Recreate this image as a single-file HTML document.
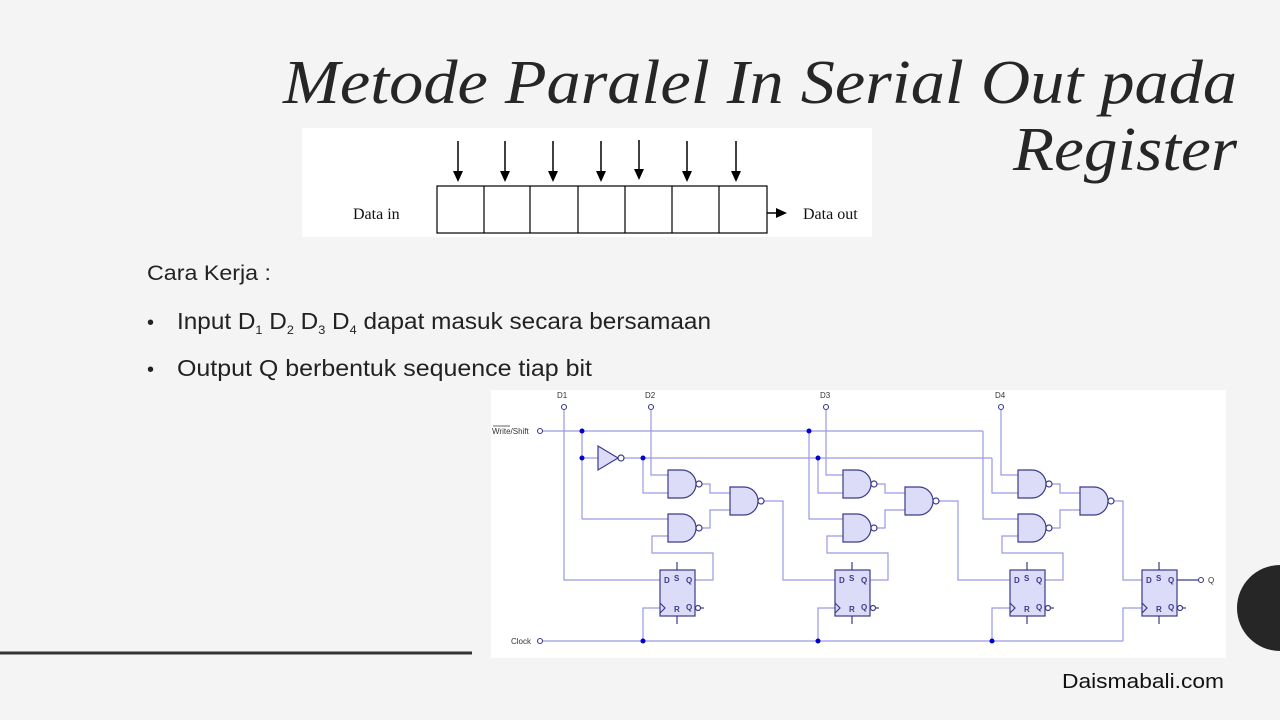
<!DOCTYPE html>
<html><head><meta charset="utf-8"><style>
html,body{margin:0;padding:0;background:#f4f4f4;}
svg{display:block}
</style></head><body>
<svg width="1280" height="720" viewBox="0 0 1280 720" xmlns="http://www.w3.org/2000/svg">
<rect width="1280" height="720" fill="#f4f4f4"/>
<!-- title -->
<text x="1237" y="103" text-anchor="end" font-family="Liberation Serif, serif" font-style="italic" font-size="62" fill="#262626" textLength="954" lengthAdjust="spacingAndGlyphs">Metode Paralel In Serial Out pada</text>
<text x="1237" y="170" text-anchor="end" font-family="Liberation Serif, serif" font-style="italic" font-size="62" fill="#262626" textLength="224" lengthAdjust="spacingAndGlyphs">Register</text>

<!-- top diagram -->
<rect x="302" y="128" width="570" height="109" fill="#ffffff"/>
<g stroke="#000" stroke-width="1.2" fill="none">
<rect x="437" y="186" width="330" height="47"/>
<line x1="484" y1="186" x2="484" y2="233"/><line x1="530" y1="186" x2="530" y2="233"/>
<line x1="578" y1="186" x2="578" y2="233"/><line x1="625" y1="186" x2="625" y2="233"/>
<line x1="672" y1="186" x2="672" y2="233"/><line x1="719" y1="186" x2="719" y2="233"/>
</g>
<g stroke="#000" stroke-width="1.5">
<line x1="458" y1="141" x2="458" y2="172"/><line x1="505" y1="141" x2="505" y2="172"/>
<line x1="553" y1="141" x2="553" y2="172"/><line x1="601" y1="141" x2="601" y2="172"/>
<line x1="639" y1="140" x2="639" y2="170"/><line x1="687" y1="141" x2="687" y2="172"/>
<line x1="736" y1="141" x2="736" y2="172"/>
<line x1="767" y1="213" x2="778" y2="213"/>
</g>
<g fill="#000">
<polygon points="453,171 463,171 458,182"/><polygon points="500,171 510,171 505,182"/>
<polygon points="548,171 558,171 553,182"/><polygon points="596,171 606,171 601,182"/>
<polygon points="634,169 644,169 639,180"/><polygon points="682,171 692,171 687,182"/>
<polygon points="731,171 741,171 736,182"/>
<polygon points="776,208 787,213 776,218"/>
</g>
<text x="353" y="219" font-family="Liberation Serif, serif" font-size="16" fill="#111">Data in</text>
<text x="803" y="219" font-family="Liberation Serif, serif" font-size="16" fill="#111">Data out</text>

<!-- text -->
<g font-family="Liberation Sans, sans-serif" fill="#222">
<text x="147" y="280" font-size="21" textLength="124" lengthAdjust="spacingAndGlyphs">Cara Kerja :</text>
<text x="147" y="329" font-size="20">•</text>
<text x="177" y="329" font-size="23" textLength="534" lengthAdjust="spacingAndGlyphs">Input D<tspan font-size="12" dy="5">1</tspan><tspan dy="-5"> D</tspan><tspan font-size="12" dy="5">2</tspan><tspan dy="-5"> D</tspan><tspan font-size="12" dy="5">3</tspan><tspan dy="-5"> D</tspan><tspan font-size="12" dy="5">4</tspan><tspan dy="-5"> dapat masuk secara bersamaan</tspan></text>
<text x="147" y="376" font-size="20">•</text>
<text x="177" y="376" font-size="23" textLength="415" lengthAdjust="spacingAndGlyphs">Output Q berbentuk sequence tiap bit</text>
<text x="1062" y="688" font-size="20" fill="#111" textLength="162" lengthAdjust="spacingAndGlyphs">Daismabali.com</text>
</g>

<line x1="0" y1="653" x2="472" y2="653" stroke="#333" stroke-width="3"/>

<!-- circuit panel -->
<rect x="491" y="390" width="735" height="268" fill="#ffffff"/>
<defs>
<g id="and">
<path d="M0,0 h14 a14,14 0 0 1 0,28 h-14 z" fill="#dcdcf8" stroke="#3b3b8a" stroke-width="1.2"/>
<circle cx="31" cy="14" r="3" fill="#fff" stroke="#3b3b8a" stroke-width="1.2"/>
</g>
<g id="ff">
<g stroke="#3b3b8a" stroke-width="1.2">
<line x1="17" y1="-8" x2="17" y2="0"/><line x1="17" y1="46" x2="17" y2="54"/>
<line x1="41" y1="38" x2="44" y2="38"/>
</g>
<rect x="0" y="0" width="35" height="46" fill="#dcdcf8" stroke="#3b3b8a" stroke-width="1.2"/>
<polyline points="0,33 5,38 0,43" fill="none" stroke="#3b3b8a" stroke-width="1.2"/>
<circle cx="38" cy="38" r="2.5" fill="#fff" stroke="#3b3b8a" stroke-width="1.2"/>
<g font-family="Liberation Sans, sans-serif" font-weight="bold" font-size="8" fill="#3b3b8a">
<text x="4" y="13">D</text><text x="14" y="11">S</text><text x="26" y="13">Q</text>
<text x="14" y="42">R</text><text x="26" y="40">Q</text>
</g>
</g>
</defs>

<g stroke="#9999e6" stroke-width="1.2" fill="none">
<line x1="543" y1="431" x2="983" y2="431"/>
<polyline points="983,431 983,519 1018,519"/>
<line x1="624" y1="458" x2="992" y2="458"/>
<polyline points="992,458 992,493 1018,493"/>
<line x1="582" y1="431" x2="582" y2="519"/>
<line x1="582" y1="458" x2="598" y2="458"/>
<line x1="543" y1="641" x2="1123" y2="641"/>
<polyline points="1123,641 1123,608 1142,608"/>
<polyline points="564,410 564,580 660,580"/>
<polyline points="651,410 651,475 668,475"/>
<polyline points="643,458 643,493 668,493"/>
<polyline points="582,519 668,519"/>
<polyline points="668,536 652,536 652,553 713,553 713,580 695,580"/>
<polyline points="702,484 710,484 710,493 730,493"/>
<polyline points="702,528 710,528 710,510 730,510"/>
<polyline points="764,501 783,501 783,580 835,580"/>
<polyline points="643,641 643,608 660,608"/>
<polyline points="826,410 826,475 843,475"/>
<polyline points="818,458 818,493 843,493"/>
<polyline points="809,431 809,519 843,519"/>
<polyline points="843,536 827,536 827,553 888,553 888,580 870,580"/>
<polyline points="877,484 885,484 885,493 905,493"/>
<polyline points="877,528 885,528 885,510 905,510"/>
<polyline points="939,501 958,501 958,580 1010,580"/>
<polyline points="818,641 818,608 835,608"/>
<polyline points="1001,410 1001,475 1018,475"/>
<polyline points="1018,536 1002,536 1002,553 1063,553 1063,580 1045,580"/>
<polyline points="1052,484 1060,484 1060,493 1080,493"/>
<polyline points="1052,528 1060,528 1060,510 1080,510"/>
<polyline points="1114,501 1123,501 1123,580 1142,580"/>
<polyline points="992,641 992,608 1010,608"/>
</g>
<g stroke="#3b3b8a" stroke-width="1.2">
<line x1="1177" y1="580" x2="1199" y2="580"/>
</g>
<polygon points="598,446 618,458 598,470" fill="#dcdcf8" stroke="#3b3b8a" stroke-width="1.2"/>
<circle cx="621" cy="458" r="3" fill="#fff" stroke="#3b3b8a" stroke-width="1.2"/>
<use href="#and" x="668" y="470"/><use href="#and" x="668" y="514"/><use href="#and" x="730" y="487"/>
<use href="#and" x="843" y="470"/><use href="#and" x="843" y="514"/><use href="#and" x="905" y="487"/>
<use href="#and" x="1018" y="470"/><use href="#and" x="1018" y="514"/><use href="#and" x="1080" y="487"/>
<use href="#ff" x="660" y="570"/><use href="#ff" x="835" y="570"/><use href="#ff" x="1010" y="570"/><use href="#ff" x="1142" y="570"/>
<g fill="#fff" stroke="#3b3b8a" stroke-width="1.1">
<circle cx="564" cy="407" r="2.5"/><circle cx="651" cy="407" r="2.5"/>
<circle cx="826" cy="407" r="2.5"/><circle cx="1001" cy="407" r="2.5"/>
<circle cx="540" cy="431" r="2.5"/><circle cx="540" cy="641" r="2.5"/>
<circle cx="1201" cy="580" r="2.5"/>
</g>
<g fill="#0000cc">
<circle cx="582" cy="431" r="2.5"/><circle cx="582" cy="458" r="2.5"/>
<circle cx="643" cy="458" r="2.5"/><circle cx="809" cy="431" r="2.5"/>
<circle cx="818" cy="458" r="2.5"/>
<circle cx="643" cy="641" r="2.5"/><circle cx="818" cy="641" r="2.5"/><circle cx="992" cy="641" r="2.5"/>
</g>
<g font-family="Liberation Sans, sans-serif" font-size="8" fill="#333">
<text x="557" y="398">D1</text><text x="645" y="398">D2</text>
<text x="820" y="398">D3</text><text x="995" y="398">D4</text>
<text x="492" y="434">Write/Shift</text>
<line x1="493" y1="426" x2="510" y2="426" stroke="#333" stroke-width="0.7"/>
<text x="511" y="644">Clock</text>
<text x="1208" y="583">Q</text>
</g>

<circle cx="1280" cy="608" r="43" fill="#262626"/>
</svg>
</body></html>
